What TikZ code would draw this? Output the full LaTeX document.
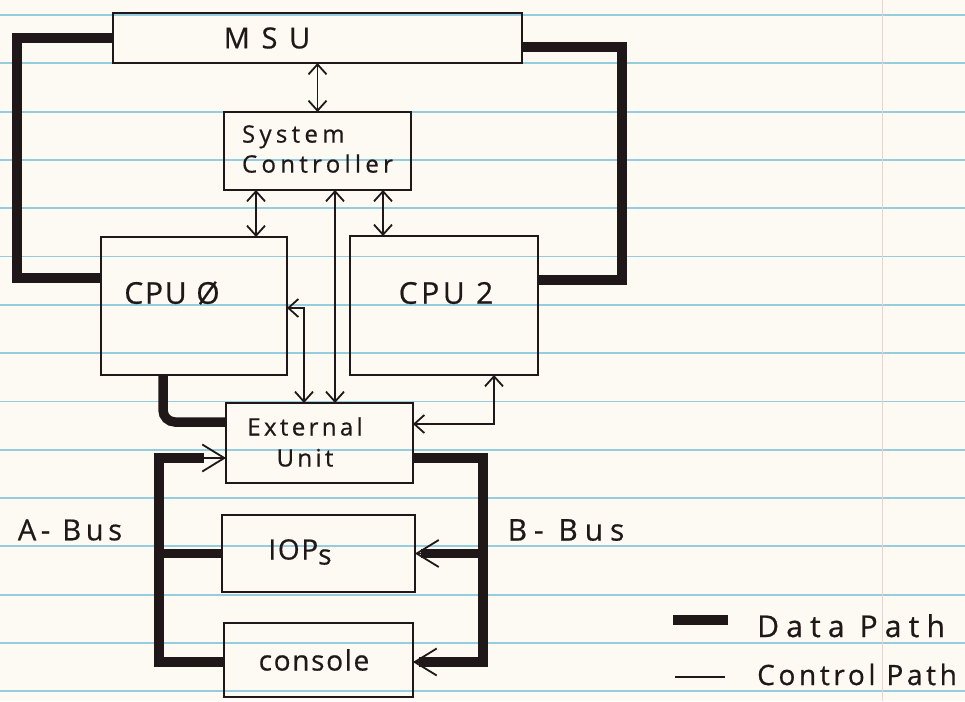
\documentclass[tikz,border=0pt]{standalone}
\usepackage{fontspec}
\newfontfamily\hand{Open Sans}[FakeBold=0.6]
\usetikzlibrary{arrows.meta,calc}
\definecolor{paper}{RGB}{252,250,242}
\definecolor{rule}{RGB}{150,205,222}
\definecolor{ink}{RGB}{32,24,24}
\definecolor{margin}{RGB}{228,212,210}
\newcommand{\hf}[3]{\hand\fontsize{#1}{#2}\selectfont\addfontfeature{LetterSpace=#3}}
\begin{document}
\begin{tikzpicture}[x=1pt,y=-1pt,
  box/.style={draw=ink, line width=2.2pt, inner sep=0pt, outer sep=0pt},
  txt/.style={text=ink, inner sep=0pt},
  ctl/.style={draw=ink, line width=1.8pt},
  data/.style={draw=ink, line width=9.5pt},
  cbarb/.style={>={Straight Barb[length=10pt,width=18pt]}},
  dbarb/.style={-{Straight Barb[length=22pt,width=27pt]}}
]
\useasboundingbox (0,0) rectangle (965,701);
\fill[paper] (0,0) rectangle (965,701);
\foreach \k in {0,...,14} \draw[rule, line width=1.8pt] (0,{15+48.3*\k}) -- (965,{15+48.3*\k});
\draw[margin, line width=0.9pt] (882,0) -- (882,701);

% boxes
\node[box, minimum width=409pt, minimum height=50pt] (MSU) at (317.5,38) {};
\node[box, minimum width=187pt, minimum height=78pt] (SC) at (317.5,151) {};
\node[box, minimum width=186pt, minimum height=138pt] (CPU0) at (194,306) {};
\node[box, minimum width=188pt, minimum height=139pt] (CPU2) at (444,305.5) {};
\node[box, minimum width=187pt, minimum height=80pt] (EU) at (319.5,443) {};
\node[box, minimum width=193pt, minimum height=77pt] (IOP) at (318.5,553.5) {};
\node[box, minimum width=189pt, minimum height=74pt] (CON) at (318.5,660) {};

% texts
\node[txt, font=\hf{29}{34}{40}] (MSUt) at (267,38) {MSU};
\node[txt, align=left, font=\hf{24}{30}{18}] (SCt) at (317.5,149) {System\\Controller};
\node[txt, font=\hf{30}{36}{6}] (C0t) at (172,293) {CPU Ø};
\node[txt, font=\hf{30}{36}{12}] (C2t) at (446,293) {CPU 2};
\node[txt, align=center, font=\hf{24}{31}{14}] (EUt) at (305,442) {External\\Unit};
\node[txt, font=\hf{28}{34}{6}] (IOt) at (300,552) {IOP\raisebox{-5pt}{s}};
\node[txt, font=\hf{28}{34}{6}] (COt) at (314,660) {console};
\node[txt, font=\hf{29}{34}{16}] (AB) at (70,530) {A- Bus};
\node[txt, font=\hf{30}{34}{23}] (BB) at (566,530) {B- Bus};

% data paths
\coordinate (L) at (17,278);
\coordinate (R) at (622,280);
\draw[data] (MSU.west) -| (L) -- (L -| CPU0.west);
\draw[data] ($(MSU.east)+(0,9)$) -| (R) -- (R -| CPU2.east);
\draw[data, rounded corners=12pt] ($(CPU0.south)+(-31,0)$) |- ($(EU.west)+(0,-21)$);

\coordinate (A1) at (159,458);
\coordinate (A2) at (159,662);
\draw[data] (A2 -| CON.west) -- (A2) -- (A1) -- ($(A1 -| EU.west)+(-22,0)$);
\draw[data] (A1 |- IOP.west) -- (IOP.west);
\draw[ctl, dbarb] ($(A1 -| EU.west)+(-24,0)$) -- (A1 -| EU.west);

\coordinate (B1) at (483,458);
\coordinate (B2) at (483,662);
\draw[data] (B1 -| EU.east) -- (B1) -- (B2) -- ($(B2 -| CON.east)+(6,0)$);
\draw[data] (B1 |- IOP.east) -- ($(IOP.east)+(6,0)$);
\draw[ctl, dbarb] (B1 |- IOP.east) -- (IOP.east);
\draw[ctl, dbarb] (B2) -- (B2 -| CON.east);

% control paths
\draw[ctl, cbarb, <->] (MSU.south) -- (SC.north);
\draw[ctl, cbarb, <->] (SC.south -| 256,0) -- (CPU0.north -| 256,0);
\draw[ctl, cbarb, <->] (SC.south -| 383,0) -- (CPU2.north -| 383,0);
\draw[ctl, cbarb, <->] (SC.south -| 335,0) -- (EU.north -| 335,0);
\draw[ctl, cbarb, <->] (CPU0.east |- 0,308) -| (EU.north -| 304,0);
\draw[ctl, cbarb, <->] (CPU2.south -| 494,0) |- (EU.east |- 0,424);

% legend
\coordinate (LD1) at (673,620);
\coordinate (LD2) at (728,620);
\coordinate (LC1) at (675,677);
\coordinate (LC2) at (725,677);
\draw[data, line width=10pt] (LD1) -- (LD2);
\draw[ctl] (LC1) -- (LC2);
\node[txt, anchor=base west, font=\hf{30}{34}{24}] (LDt) at (757,637) {Data Path};
\node[txt, anchor=base west, font=\hf{28}{34}{13}] (LCt) at (757,685) {Control Path};
\end{tikzpicture}
\end{document}
